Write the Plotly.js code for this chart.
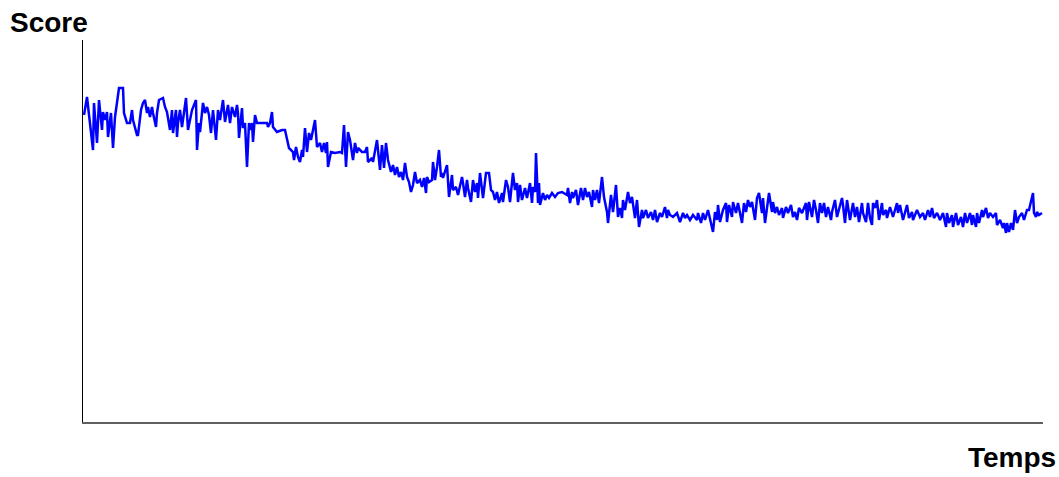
<!DOCTYPE html>
<html>
<head>
<meta charset="utf-8">
<script src="https://cdn.plot.ly/plotly-3.0.1.min.js"></script>
<style>html,body{margin:0;padding:0;background:#fff;}#chart{width:1059px;height:477px;}</style>
</head>
<body>
<div id="chart"></div>
<script>
const temps = [1,4,10,11,14,16,19,20,22,24,25,28,30,32,36,40,41,44,47,49,50,54,55,58,60,62,64,65,67,69,70,73,74,76,80,82,84,87,89,90,93,94,95,97,99,103,105,109,113,114,116,117,120,122,124,126,128,130,133,135,137,140,142,145,147,149,152,154,155,156,159,160,162,164,166,168,169,170,172,174,179,184,185,187,189,190,194,199,202,204,206,210,211,213,215,217,219,220,222,224,226,228,232,234,237,239,241,243,244,245,248,252,257,259,261,263,265,267,270,272,274,275,279,282,284,285,289,290,294,297,299,301,303,305,308,310,312,314,316,318,320,322,324,326,328,330,332,334,337,339,341,343,344,346,349,350,352,354,356,358,359,360,362,364,366,369,370,373,375,379,380,382,384,385,388,390,392,394,395,397,400,401,403,406,408,410,412,414,416,419,420,423,425,427,430,432,434,435,437,439,442,444,447,449,450,452,453,455,456,457,460,462,464,466,469,472,475,479,484,485,487,489,490,493,495,498,500,502,504,506,509,510,512,514,516,519,521,524,525,528,530,533,535,537,539,540,542,545,547,549,552,554,556,559,560,563,565,568,570,572,574,577,579,582,584,585,587,590,594,597,600,602,604,607,610,614,615,618,620,622,625,630,632,634,635,637,640,643,644,646,649,650,653,655,659,661,663,665,667,669,672,674,676,679,680,682,686,689,690,692,694,696,699,700,703,705,708,710,712,714,716,719,723,724,726,729,731,733,735,737,739,741,743,745,748,749,752,754,759,760,762,764,765,767,770,772,774,776,779,780,783,785,787,789,790,792,794,796,799,800,803,804,807,810,812,814,815,817,820,824,826,829,830,834,837,840,842,845,847,849,851,854,855,857,860,863,864,866,869,870,873,875,878,880,882,884,887,889,890,893,894,896,899,900,903,905,907,910,913,914,917,920,921,923,924,926,928,930,932,934,936,939,941,944,946,950,951,953,954,956,959];
const score = [307,325,272,319,279,322,292,310,302,310,285,309,274,305,334,334,309,299,299,312,302,287,287,312,319,322,309,315,305,315,309,295,309,322,324,315,310,292,312,289,312,285,299,312,295,324,292,312,322,272,299,290,319,309,315,307,289,312,282,312,302,322,300,317,299,315,305,317,309,284,314,294,299,255,299,292,299,280,307,299,299,299,295,299,310,295,290,292,292,282,274,270,262,275,265,260,272,265,294,270,289,282,302,275,279,270,279,269,280,255,270,269,270,269,297,255,290,282,262,279,269,274,270,270,275,260,264,260,282,252,277,254,279,262,250,257,247,255,245,250,242,259,245,240,230,237,250,239,242,235,244,229,245,240,242,260,242,255,272,245,249,244,250,257,225,247,232,235,227,245,239,225,242,234,220,242,230,239,224,249,224,232,249,249,232,230,222,230,219,229,220,242,235,220,249,232,239,220,237,222,234,224,239,219,235,230,269,219,239,217,229,222,227,224,229,225,229,230,227,234,219,230,224,232,217,234,222,234,225,230,215,232,222,232,219,245,225,210,199,227,210,237,205,214,204,222,212,230,219,225,204,222,195,212,204,212,204,210,202,212,200,209,205,215,204,212,207,205,209,200,209,204,207,202,207,202,209,199,209,202,212,190,210,202,217,200,212,219,200,217,205,220,209,219,199,219,210,222,215,220,202,224,229,209,224,199,229,210,220,209,215,207,214,204,215,209,217,205,210,202,214,209,219,202,220,205,222,212,199,219,209,219,205,215,202,210,222,205,224,217,199,222,215,202,219,205,215,200,219,209,200,219,204,197,219,214,222,202,219,207,212,204,215,205,212,219,209,217,202,217,204,210,202,212,205,209,202,212,205,214,204,209,207,202,209,195,209,199,207,195,209,197,205,195,209,199,209,197,207,195,209,199,212,205,214,204,209,205,209,197,202,194,199,189,199,190,199,192,212,199,205,209,202,212,212,229,209,205,210,207,209];

const trace = {
  x: temps,
  y: score,
  type: 'scatter',
  mode: 'lines',
  line: {color: '#0000FF', width: 2.5},
  hoverinfo: 'skip'
};

const layout = {
  width: 1059,
  height: 477,
  margin: {l: 83, r: 16, t: 40, b: 55, pad: 0},
  paper_bgcolor: '#ffffff',
  plot_bgcolor: '#ffffff',
  showlegend: false,
  xaxis: {
    range: [0, 960],
    showgrid: false, zeroline: false, showticklabels: false, ticks: '',
    showline: true, linecolor: '#606060', linewidth: 2
  },
  yaxis: {
    range: [0, 382],
    showgrid: false, zeroline: false, showticklabels: false, ticks: '',
    showline: true, linecolor: '#000000', linewidth: 1
  },
  annotations: [
    {text: '<b>Score</b>', xref: 'paper', yref: 'paper', x: -0.078, y: 1.046,
     xanchor: 'left', yanchor: 'middle', showarrow: false,
     font: {family: 'Liberation Sans, Arial, sans-serif', size: 28, color: '#000'}},
    {text: '<b>Temps</b>', xref: 'paper', yref: 'paper', x: 1.016, y: -0.092,
     xanchor: 'right', yanchor: 'middle', showarrow: false,
     font: {family: 'Liberation Sans, Arial, sans-serif', size: 28, color: '#000'}}
  ]
};

Plotly.newPlot('chart', [trace], layout, {staticPlot: true, displayModeBar: false});
</script>
</body>
</html>
